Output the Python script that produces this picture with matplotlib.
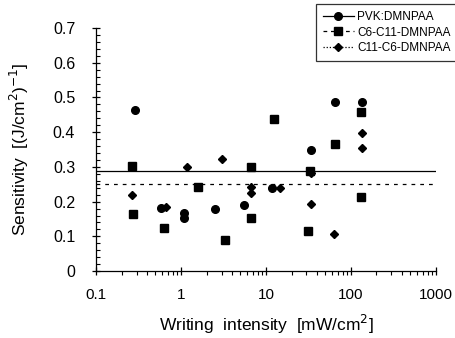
import matplotlib
matplotlib.use("Agg")
import matplotlib.pyplot as plt
from matplotlib.ticker import FixedLocator, NullFormatter, LogLocator

plt.rcParams['font.family'] = ['Liberation Sans', 'DejaVu Sans']

# PVK:DMNPAA (circles)
pvk_x = [0.284, 0.585, 1.08, 1.08, 2.49, 5.55, 11.7, 33, 34.3, 65, 134]
pvk_y = [0.464, 0.182, 0.167, 0.153, 0.179, 0.190, 0.239, 0.288, 0.349, 0.486, 0.486]

# C6-C11-DMNPAA (squares)
c6_x = [0.262, 0.27, 0.634, 1.58, 3.33, 6.7, 6.7, 12.6, 33, 31.6, 65, 130, 130]
c6_y = [0.303, 0.164, 0.124, 0.241, 0.089, 0.153, 0.300, 0.438, 0.288, 0.115, 0.366, 0.458, 0.213]

# C11-C6-DMNPAA (diamonds)
c11_x = [0.262, 0.67, 1.17, 3.0, 6.7, 6.7, 14.6, 34, 34, 63, 134, 134]
c11_y = [0.219, 0.184, 0.300, 0.323, 0.242, 0.225, 0.239, 0.282, 0.193, 0.107, 0.398, 0.355]

# mean sensitivity lines
pvk_mean = 0.288
c6_mean = 0.25

labels = ["PVK:DMNPAA", "C6-C11-DMNPAA", "C11-C6-DMNPAA"]
xticks = [0.1, 1, 10, 100, 1000]
xticklabels = ["0.1", "1", "10", "100", "1000"]
yticks = [0, 0.1, 0.2, 0.3, 0.4, 0.5, 0.6, 0.7]
yticklabels = ["0", "0.1", "0.2", "0.3", "0.4", "0.5", "0.6", "0.7"]

fig = plt.figure(figsize=(4.55, 3.38), dpi=100)
ax = fig.add_axes([0.211, 0.198, 0.747, 0.719])
ax.set_xscale('log')
ax.set_xlim(0.1, 1000)
ax.set_ylim(0, 0.7)

ax.plot(pvk_x, pvk_y, 'o', color='black', ms=5.5)
ax.plot(c6_x, c6_y, 's', color='black', ms=5.5)
ax.plot(c11_x, c11_y, 'D', color='black', ms=4)
ax.axhline(pvk_mean, color='black', lw=0.9, ls='-')
ax.axhline(c6_mean, color='black', lw=0.9, ls=(0, (3, 4)))

# legend proxies
h1, = ax.plot([], [], '-', marker='o', color='black', ms=5.5, lw=0.9)
h2, = ax.plot([], [], marker='s', color='black', ms=5.5, lw=0.9, ls=(0, (3, 3)))
h3, = ax.plot([], [], marker='D', color='black', ms=4, lw=0.9, ls=(0, (1, 1.5)))
leg = fig.legend([h1, h2, h3], labels, loc='upper left',
                 bbox_to_anchor=(316 / 455, 1 - 4 / 338), fontsize=8.5,
                 frameon=True, fancybox=False, edgecolor='black',
                 handlelength=2.6, handletextpad=0.3, borderpad=0.6,
                 labelspacing=0.3, borderaxespad=0)
leg.get_frame().set_linewidth(0.9)

ax.spines['top'].set_visible(False)
ax.spines['right'].set_visible(False)
ax.spines['left'].set_linewidth(0.9)
ax.spines['bottom'].set_linewidth(0.9)

ax.xaxis.set_major_locator(FixedLocator(xticks))
ax.set_xticklabels(xticklabels)
ax.xaxis.set_minor_locator(LogLocator(base=10, subs=range(2, 10), numticks=20))
ax.xaxis.set_minor_formatter(NullFormatter())
ax.set_yticks(yticks)
ax.set_yticklabels(yticklabels)
ax.set_yticks([i * 0.02 for i in range(36)], minor=True)

ax.tick_params(axis='both', which='major', direction='inout', length=6, width=0.9, labelsize=11.5)
ax.tick_params(axis='x', which='major', labelsize=11)
ax.tick_params(axis='x', which='minor', direction='out', length=3, width=0.8)
ax.tick_params(axis='y', which='minor', direction='in', length=3, width=0.8)
ax.tick_params(axis='x', which='major', pad=9)
ax.tick_params(axis='y', which='major', pad=12)

ax.set_xlabel("Writing  intensity  [mW/cm$^2$]", fontsize=12.5, labelpad=8)
ax.set_ylabel("Sensitivity  [(J/cm$^2$)$^{-1}$]", fontsize=12.5, labelpad=16)

fig.savefig("out.png", dpi=100)
